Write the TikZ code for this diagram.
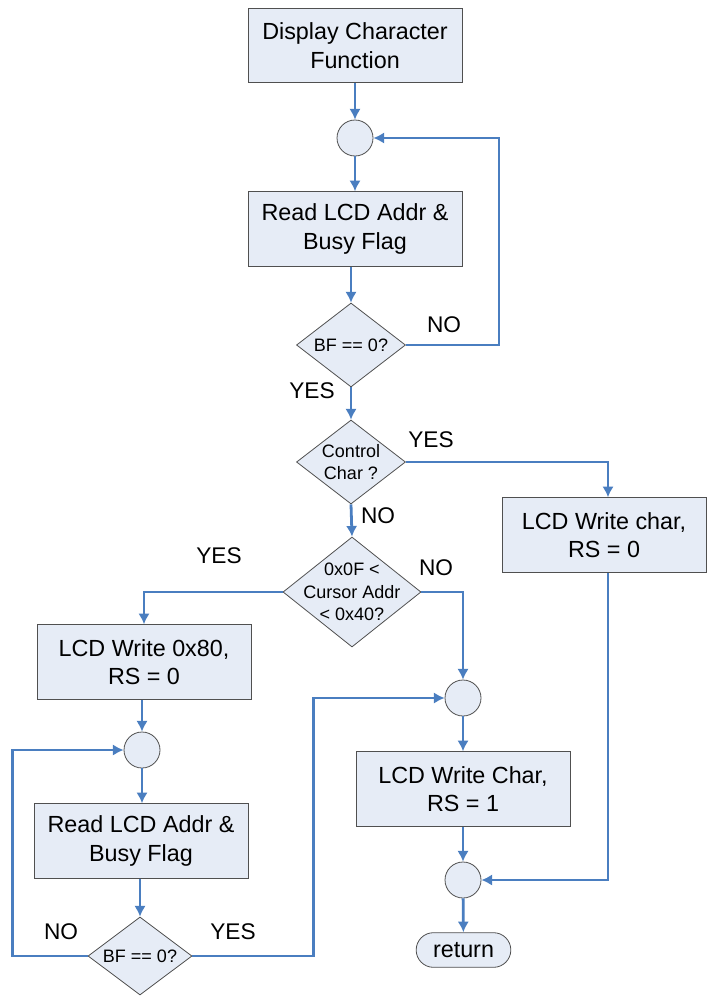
\documentclass[tikz,border=0pt]{standalone}
\usepackage{fontspec}
\setmainfont{Liberation Sans}
\usetikzlibrary{shapes.geometric,shapes.misc,arrows.meta}
\definecolor{lineblue}{HTML}{4A7EC0}
\definecolor{boxfill}{HTML}{E6ECF6}
\definecolor{boxdraw}{HTML}{505050}
\begin{document}
\begin{tikzpicture}[x=0.75pt,y=-0.75pt,
  proc/.style={rectangle, draw=boxdraw, fill=boxfill, line width=0.6pt,
    minimum width=160.5pt, minimum height=56pt, align=center,
    font=\fontsize{17.5}{21.5}\selectfont, inner sep=0pt},
  dec/.style={diamond, draw=boxdraw, fill=boxfill, line width=0.6pt, inner sep=0pt},
  dtext/.style={align=center, font=\fontsize{13.5}{17}\selectfont, inner sep=0pt},
  junc/.style={circle, draw=boxdraw, fill=boxfill, line width=0.6pt,
    minimum size=27pt, inner sep=0pt},
  term/.style={rounded rectangle, draw=boxdraw, fill=boxfill, line width=0.6pt,
    minimum width=71pt, minimum height=26pt, inner sep=0pt,
    font=\fontsize{17.5}{21}\selectfont},
  flow/.style={draw=lineblue, line width=2.1pt, -{Latex[length=8pt,width=8.5pt]}},
  lbl/.style={font=\fontsize{17}{20}\selectfont, inner sep=0pt}
]
\useasboundingbox (0,0) rectangle (707,996);

% nodes
\node[proc] (b1) at (355,45.5) {Display Character\\Function};
\node[junc] (c1) at (355,138) {};
\node[proc] (b2) at (355,229) {Read LCD Addr \&\\Busy Flag};
\node[dec, minimum width=81.75pt, minimum height=63pt,
  label={[dtext]center:BF == 0?}] (d1) at (351,345) {};
\node[dec, minimum width=81.75pt, minimum height=63pt,
  label={[dtext]center:Control\\Char ?}] (d2) at (351,462) {};
\node[proc, minimum width=153pt] (b3) at (604,535) {LCD Write char,\\RS = 0};
\node[dec, minimum width=103.5pt, minimum height=82.5pt,
  label={[dtext]center:0x0F <\\Cursor Addr\\< 0x40?}] (d3) at (352,592) {};
\node[proc] (b4) at (144,662) {LCD Write 0x80,\\RS = 0};
\node[junc] (c2) at (142,750) {};
\node[proc] (b5) at (141,841) {Read LCD Addr \&\\Busy Flag};
\node[dec, minimum width=78pt, minimum height=58.5pt,
  label={[dtext]center:BF == 0?}] (d4) at (140,956) {};
\node[junc] (c3) at (463,698) {};
\node[proc] (b6) at (463,789) {LCD Write Char,\\RS = 1};
\node[junc] (c4) at (463,880) {};
\node[term] (r) at (463.5,950) {return};

% labels
\node[lbl] (l1) at (444,325) {NO};
\node[lbl] (l2) at (312,391) {YES};
\node[lbl] (l3) at (431,440) {YES};
\node[lbl] (l4) at (378,516) {NO};
\node[lbl] (l5) at (219,556) {YES};
\node[lbl] (l6) at (436,568) {NO};
\node[lbl] (l7) at (61,932) {NO};
\node[lbl] (l8) at (233,932) {YES};

% connectors
\coordinate (x3) at (608,0);
\draw[flow] (b1) -- (c1);
\draw[flow] (c1) -- (b2);
\draw[flow] (d1.north |- b2.south) -- (d1.north);
\draw[flow] (d1.east) -- ++(93,0) |- (c1.east);
\draw[flow] (d1.south) -- (d2.north);
\draw[flow] (d2.east) -| (x3 |- b3.north);
\draw[flow] (d2.south) -- (d3.north);
\draw[flow] (d3.west) -| (b4.north);
\draw[flow] (d3.east) -| (c3.north);
\draw[flow] (c2.north |- b4.south) -- (c2.north);
\draw[flow] (c2.south) -- (c2.south |- b5.north);
\draw[flow] (d4.north |- b5.south) -- (d4.north);
\draw[flow] (d4.west) -- ++(-75,0) |- (c2.west);
\draw[flow] (d4.east) -- ++(121,0) |- (c3.west);
\draw[flow] (c3) -- (b6);
\draw[flow] (b6) -- (c4);
\draw[flow] (x3 |- b3.south) |- (c4.east);
\draw[flow] (c4) -- (r);
\end{tikzpicture}
\end{document}
